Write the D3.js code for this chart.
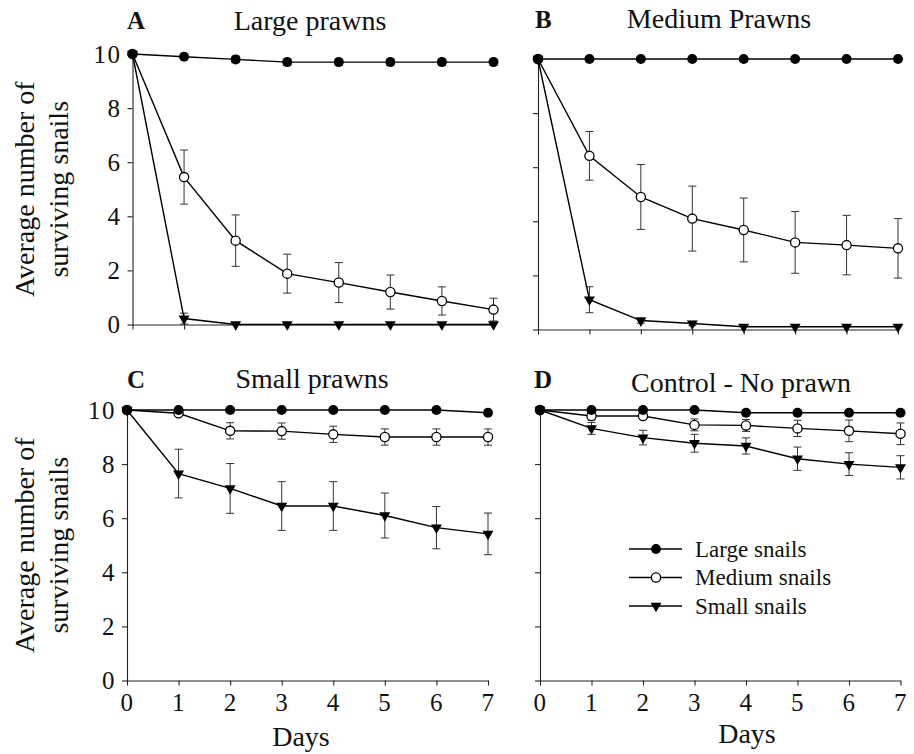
<!DOCTYPE html>
<meta charset="utf-8">
<style>
	body { margin: 0; background: #fff; }
	svg, svg text { font-family: "Liberation Serif", "Times New Roman", Times, "DejaVu Serif", serif; fill: #111; }
	.axis path, .axis line { stroke: #222; stroke-width: 1.1; }
	.axis text { font-size: 25px; fill: #111; }
</style>
<body>
<div id="chartBx"></div>

<script src="https://d3js.org/d3.v7.min.js"></script>
<script>

	// ---- data ----
	var days = [0, 1, 2, 3, 4, 5, 6, 7];
	var yTicks = [0, 2, 4, 6, 8, 10];
	var seriesNames = ["Large snails", "Medium snails", "Small snails"];

	// A : Large prawns
	var aLarge     = [10, 9.9, 9.8, 9.7, 9.7, 9.7, 9.7, 9.7];
	var aLargeErr  = [0, 0.1, 0.12, 0.12, 0.12, 0.12, 0.12, 0.12];
	var aMedium    = [10, 5.45, 3.1, 1.88, 1.55, 1.2, 0.87, 0.55];
	var aMediumErr = [0, 1.0, 0.95, 0.72, 0.74, 0.63, 0.52, 0.42];
	var aSmall     = [10, 0.22, 0, 0, 0, 0, 0, 0];
	var aSmallErr  = [0, 0.2, 0, 0, 0, 0, 0, 0];

	// B : Medium prawns
	var bLarge     = [10, 10, 10, 10, 10, 10, 10, 10];
	var bLargeErr  = [0, 0, 0, 0, 0, 0, 0, 0];
	var bMedium    = [10, 6.42, 4.9, 4.1, 3.68, 3.22, 3.12, 3.0];
	var bMediumErr = [0, 0.9, 1.2, 1.2, 1.18, 1.14, 1.1, 1.1];
	var bSmall     = [10, 1.1, 0.33, 0.22, 0.1, 0.1, 0.1, 0.1];
	var bSmallErr  = [0, 0.48, 0.1, 0.08, 0, 0, 0, 0];

	// C : Small prawns
	var cLarge     = [10, 10, 10, 10, 10, 10, 10, 9.9];
	var cLargeErr  = [0, 0, 0, 0, 0, 0, 0, 0];
	var cMedium    = [10, 9.88, 9.23, 9.22, 9.1, 9.0, 9.0, 9.0];
	var cMediumErr = [0, 0.1, 0.3, 0.3, 0.3, 0.3, 0.3, 0.3];
	var cSmall     = [10, 7.65, 7.1, 6.45, 6.45, 6.1, 5.65, 5.42];
	var cSmallErr  = [0, 0.9, 0.92, 0.9, 0.9, 0.83, 0.78, 0.77];

	// D : Control - no prawn
	var dLarge     = [10, 10, 10, 10, 9.9, 9.9, 9.9, 9.9];
	var dLargeErr  = [0, 0, 0, 0, 0, 0, 0, 0];
	var dMedium    = [10, 9.78, 9.78, 9.45, 9.43, 9.32, 9.23, 9.12];
	var dMediumErr = [0, 0.15, 0.12, 0.22, 0.22, 0.3, 0.4, 0.4];
	var dSmall     = [10, 9.32, 8.98, 8.77, 8.67, 8.2, 8.0, 7.88];
	var dSmallErr  = [0, 0.22, 0.27, 0.33, 0.3, 0.43, 0.42, 0.43];


	// ---- layout ----
	var fontFam = "'Liberation Serif', 'Times New Roman', Times, serif";

	var svg = d3.select("#chartBx").append("svg")
				.attr("width", 914)
				.attr("height", 754)
				.attr("font-family", fontFam);

	var panels = [
		{ letter: "A", title: "Large prawns", left: 132.5, right: 493.5, top: 54, bottom: 324.5,
		  letterPos: [127, 29], titlePos: [310, 30], xLabels: false, yLabels: true, daysPos: null,
		  series: [[aSmall, aSmallErr], [aMedium, aMediumErr], [aLarge, aLargeErr]] },
		{ letter: "B", title: "Medium Prawns", left: 538, right: 898, top: 59, bottom: 329.5,
		  letterPos: [535, 28], titlePos: [719, 28], xLabels: false, yLabels: false, daysPos: null,
		  series: [[bSmall, bSmallErr], [bMedium, bMediumErr], [bLarge, bLargeErr]] },
		{ letter: "C", title: "Small prawns", left: 127, right: 488, top: 410, bottom: 680.5,
		  letterPos: [127, 388], titlePos: [312, 388], xLabels: true, yLabels: true, daysPos: [301, 746],
		  series: [[cSmall, cSmallErr], [cMedium, cMediumErr], [cLarge, cLargeErr]] },
		{ letter: "D", title: "Control - No prawn", left: 540, right: 900.5, top: 410, bottom: 680.5,
		  letterPos: [534, 388], titlePos: [741, 392], xLabels: true, yLabels: false, daysPos: [747, 743],
		  series: [[dSmall, dSmallErr], [dMedium, dMediumErr], [dLarge, dLargeErr]] }
	];

	// series order in panel.series : small, medium, large (large drawn on top)
	var markerType = ["triangle", "open", "filled"];

	panels.forEach(function(p) { makePanel(p); });
	makeLegend(629, 682, 695, [549, 577.5, 606]);


	function drawMarker(g, type, cx, cy) {
		if (type === "filled") {
			g.append("circle").attr("cx", cx).attr("cy", cy).attr("r", 5).attr("fill", "#000");
		} else if (type === "open") {
			g.append("circle").attr("cx", cx).attr("cy", cy).attr("r", 4.6)
				.attr("fill", "#fff").attr("stroke", "#000").attr("stroke-width", 1.3);
		} else {
			g.append("path")
				.attr("d", d3.symbol().type(d3.symbolTriangle).size(52)())
				.attr("transform", "translate(" + cx + "," + cy + ") rotate(180)")
				.attr("fill", "#000");
		}
	}


	function makePanel(p) {
		var x = d3.scaleLinear().domain([0, 7]).range([p.left, p.right]);
		var y = d3.scaleLinear().domain([0, 10]).range([p.bottom, p.top]);

		var g = svg.append("g").attr("class", "panel-" + p.letter);

		// axes
		var xAxis = d3.axisBottom(x).tickValues(days).tickSizeInner(5).tickSizeOuter(0).tickPadding(8)
						.tickFormat(p.xLabels ? d3.format("d") : "");
		g.append("g").attr("class", "axis")
			.attr("transform", "translate(0," + p.bottom + ")")
			.call(xAxis)
			.attr("font-family", fontFam);

		var yAxis = d3.axisLeft(y).tickValues(yTicks).tickSizeInner(5).tickSizeOuter(0).tickPadding(6)
						.tickFormat(p.yLabels ? d3.format("d") : "");
		g.append("g").attr("class", "axis")
			.attr("transform", "translate(" + p.left + ",0)")
			.call(yAxis)
			.attr("font-family", fontFam);
		g.selectAll(".axis text").attr("letter-spacing", "1.5px");

		// titles
		g.append("text").attr("x", p.letterPos[0]).attr("y", p.letterPos[1])
			.attr("font-size", 25).attr("font-weight", "bold").text(p.letter);
		g.append("text").attr("x", p.titlePos[0]).attr("y", p.titlePos[1])
			.attr("text-anchor", "middle").attr("font-size", 28).text(p.title);

		if (p.yLabels) {
			var cy = (p.top + p.bottom) / 2;
			g.append("text").attr("transform", "translate(34," + cy + ") rotate(-90)")
				.attr("text-anchor", "middle").attr("font-size", 28).text("Average number of");
			g.append("text").attr("transform", "translate(68," + cy + ") rotate(-90)")
				.attr("text-anchor", "middle").attr("font-size", 28).text("surviving snails");
		}
		if (p.daysPos) {
			g.append("text").attr("x", p.daysPos[0]).attr("y", p.daysPos[1])
				.attr("text-anchor", "middle").attr("font-size", 28).text("Days");
		}

		var line = d3.line()
			.x(function(d, i) { return x(days[i]); })
			.y(function(d) { return y(d); });

		// error bars first
		p.series.forEach(function(s) {
			var vals = s[0], errs = s[1];
			vals.forEach(function(v, i) {
				if (!errs[i]) return;
				var cx = x(days[i]);
				var eb = g.append("g").attr("stroke", "#333").attr("stroke-width", 1);
				eb.append("line").attr("x1", cx).attr("x2", cx).attr("y1", y(v + errs[i])).attr("y2", y(v - errs[i]));
				eb.append("line").attr("x1", cx - 4).attr("x2", cx + 4).attr("y1", y(v + errs[i])).attr("y2", y(v + errs[i]));
				eb.append("line").attr("x1", cx - 4).attr("x2", cx + 4).attr("y1", y(v - errs[i])).attr("y2", y(v - errs[i]));
			});
		});

		// lines and markers
		p.series.forEach(function(s) {
			g.append("path").datum(s[0])
				.attr("d", line)
				.attr("fill", "none")
				.attr("stroke", "#000")
				.attr("stroke-width", 1.4);
		});
		p.series.forEach(function(s, k) {
			s[0].forEach(function(v, i) { drawMarker(g, markerType[k], x(days[i]), y(v)); });
		});
	}


	function makeLegend(x1, x2, tx, rows) {
		var lg = svg.append("g").attr("class", "legend");
		var order = ["filled", "open", "triangle"];
		seriesNames.forEach(function(name, i) {
			lg.append("line").attr("x1", x1).attr("x2", x2).attr("y1", rows[i]).attr("y2", rows[i])
				.attr("stroke", "#000").attr("stroke-width", 1.4);
			drawMarker(lg, order[i], (x1 + x2) / 2 + 0.5, rows[i]);
			lg.append("text").attr("x", tx).attr("y", rows[i]).attr("dy", "0.33em")
				.attr("font-size", 23).text(name);
		});
	}

</script>
</body>
